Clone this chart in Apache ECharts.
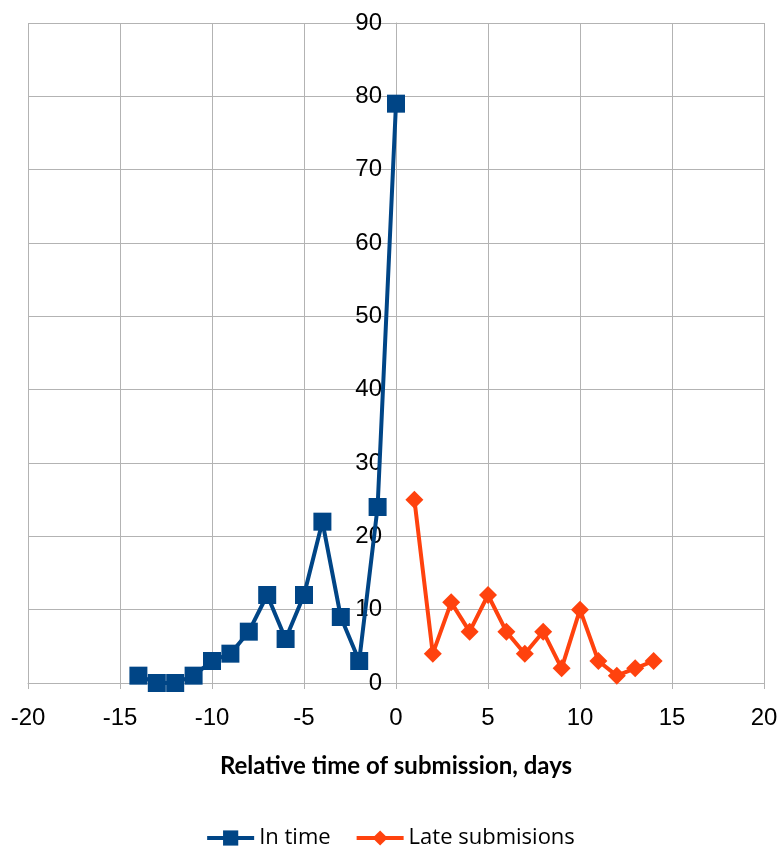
<!DOCTYPE html>
<html>
<head>
<meta charset="utf-8">
<title>Submission time</title>
<script src="https://cdn.jsdelivr.net/npm/echarts@6/dist/echarts.min.js"></script>
<style>
  html, body { margin: 0; padding: 0; background: #fff; }
  #chart { width: 780px; height: 847px; }
</style>
</head>
<body>
<div id="chart"></div>
<script>
// days relative to deadline
var inTimeDays = [-14, -13, -12, -11, -10, -9, -8, -7, -6, -5, -4, -3, -2, -1, 0];
var inTimeCounts = [1, 0, 0, 1, 3, 4, 7, 12, 6, 12, 22, 9, 3, 24, 79];
var lateDays = [1, 2, 3, 4, 5, 6, 7, 8, 9, 10, 11, 12, 13, 14];
var lateCounts = [25, 4, 11, 7, 12, 7, 4, 7, 2, 10, 3, 1, 2, 3];

function pairs(xs, ys) {
    var out = [];
    for (var i = 0; i < xs.length; i++) {
        out.push([xs[i], ys[i]]);
    }
    return out;
}

var chart = echarts.init(document.getElementById('chart'), null, { renderer: 'canvas' });
var gridColor = '#b3b3b3';
var gridLeft = 28, gridRight = 16;
// y axis sits on x = 0, i.e. half way across the plot
var plotWidth = 780 - gridLeft - gridRight;

chart.setOption({
    animation: false,
    grid: { left: gridLeft, right: gridRight, top: 23, bottom: 164, containLabel: false, outerBoundsMode: 'none' },
    legend: {
        top: 822,
        left: 'center',
        itemWidth: 47,
        itemHeight: 19,
        itemGap: 24,
        lineStyle: { width: 4 },
        textStyle: { fontFamily: 'Open Sans', fontSize: 22, color: '#000' },
        data: ['In time', 'Late submisions']
    },
    xAxis: {
        type: 'value',
        min: -20,
        max: 20,
        interval: 5,
        name: 'Relative time of submission, days',
        nameLocation: 'middle',
        nameGap: 71,
        nameTextStyle: { fontFamily: 'Lato', fontWeight: 'bold', fontSize: 24, color: '#000' },
        axisLine: { onZero: false, lineStyle: { color: gridColor, width: 1 } },
        axisTick: { show: true, length: 6, lineStyle: { color: gridColor } },
        axisLabel: { fontFamily: 'Liberation Sans', fontSize: 24, color: '#000', margin: 23 },
        splitLine: { show: true, lineStyle: { color: gridColor, width: 1 } }
    },
    yAxis: {
        type: 'value',
        min: 0,
        max: 90,
        interval: 10,
        position: 'left',
        offset: -plotWidth / 2,
        axisLine: { show: true, onZero: false, lineStyle: { color: gridColor, width: 1 } },
        axisTick: { show: true, length: 6, lineStyle: { color: gridColor } },
        axisLabel: { fontFamily: 'Liberation Sans', fontSize: 24, color: '#000', margin: 14 },
        splitLine: { show: true, lineStyle: { color: gridColor, width: 1 } }
    },
    series: [
        {
            name: 'In time',
            type: 'line',
            data: pairs(inTimeDays, inTimeCounts),
            symbol: 'rect',
            symbolSize: 18,
            itemStyle: { color: '#004586' },
            lineStyle: { color: '#004586', width: 4 },
            z: 3
        },
        {
            name: 'Late submisions',
            type: 'line',
            data: pairs(lateDays, lateCounts),
            symbol: 'diamond',
            symbolSize: 18,
            itemStyle: { color: '#ff420e' },
            lineStyle: { color: '#ff420e', width: 4 },
            z: 3
        }
    ]
});
</script>
</body>
</html>
